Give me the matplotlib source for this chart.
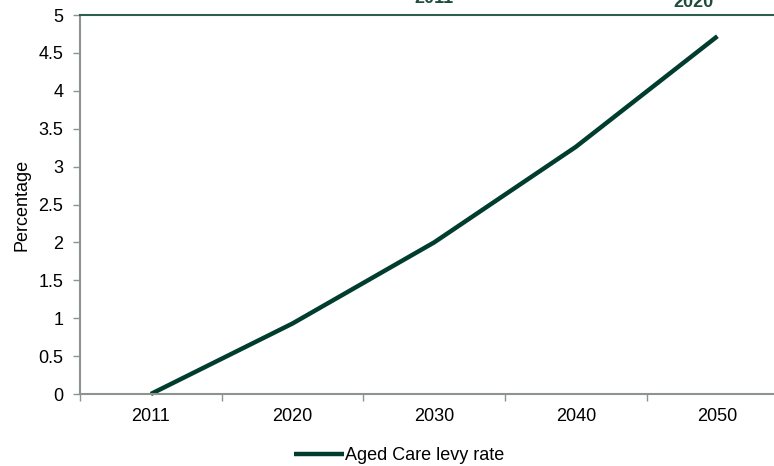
import matplotlib.pyplot as plt

plt.rcParams['font.family'] = ['Liberation Sans', 'DejaVu Sans']

years = ["2011", "2020", "2030", "2040", "2050"]
levy_rate = [0.0, 0.93, 2.0, 3.26, 4.72]
y_ticks = [0, 0.5, 1, 1.5, 2, 2.5, 3, 3.5, 4, 4.5, 5]
y_tick_labels = ["0", "0.5", "1", "1.5", "2", "2.5", "3", "3.5", "4", "4.5", "5"]

line_color = "#003D2E"
axis_color = "#8C9490"

fig = plt.figure(figsize=(7.74, 4.66), dpi=100)
ax = fig.add_axes([0.1034, 0.1545, 0.915, 0.8133])

x = list(range(len(years)))
ax.plot(x, levy_rate, color=line_color, linewidth=3.2, solid_capstyle="butt",
        label="Aged Care levy rate", clip_on=False)

ax.set_xlim(-0.5, len(years) - 0.5)
ax.set_ylim(0, 5)
ax.set_yticks(y_ticks)
ax.set_yticklabels(y_tick_labels)
ax.set_xticks(x)
ax.set_xticklabels(years)
ax.set_xticks([i - 0.5 for i in range(len(years) + 1)], minor=True)
ax.tick_params(axis="x", which="major", length=0, pad=10, labelsize=13)
ax.tick_params(axis="x", which="minor", length=5, color=axis_color, width=1)
ax.tick_params(axis="y", length=5, color=axis_color, width=1, labelsize=13, pad=7)

ax.spines["right"].set_visible(False)
ax.spines["left"].set_color(axis_color)
ax.spines["left"].set_linewidth(1.5)
ax.spines["bottom"].set_color(axis_color)
ax.spines["bottom"].set_linewidth(1.5)
ax.spines["top"].set_color("#2E5E4E")
ax.spines["top"].set_linewidth(1.5)

ax.set_ylabel("Percentage", fontsize=13, labelpad=6)

fig.legend(*ax.get_legend_handles_labels(), loc="center",
           bbox_to_anchor=(399 / 774, 10 / 466), frameon=False,
           fontsize=13, handlelength=2.8, handletextpad=0.05,
           borderpad=0, borderaxespad=0)

# headings from the panel above, clipped by the top edge
fig.text(434 / 774, 1 - 3 / 466, "2011", color="#1F4D3C", fontsize=13,
         fontweight="bold", ha="center", va="baseline")
fig.text(693 / 774, 1 - 7 / 466, "2020", color="#1F4D3C", fontsize=13,
         fontweight="bold", ha="center", va="baseline")

fig.savefig("out.png", dpi=100)
